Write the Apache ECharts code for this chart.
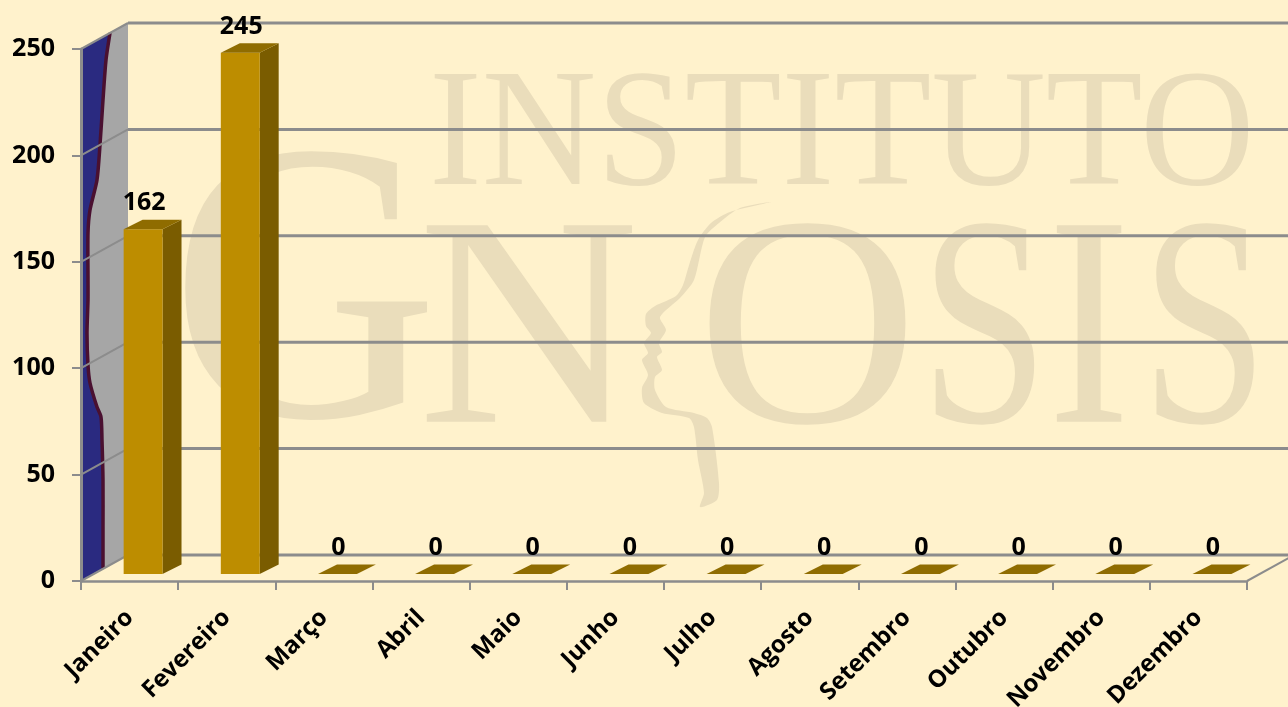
<!DOCTYPE html>
<html><head><meta charset="utf-8">
<style>html,body{margin:0;padding:0;background:#FFF2CC}#c{width:1288px;height:707px}</style>
<script src="https://cdn.jsdelivr.net/npm/echarts@6/dist/echarts.min.js"></script>
</head><body><div id="c"></div>
<script>
const categories = ['Janeiro','Fevereiro','Março','Abril','Maio','Junho','Julho','Agosto','Setembro','Outubro','Novembro','Dezembro'];
const values = [162,245,0,0,0,0,0,0,0,0,0,0];
const yTicks = [0,50,100,150,200,250];

const WM = '#EADDBB', GRID = '#8C8C8C', FONT = '"Open Sans","Noto Sans",sans-serif';
const wallDX = 47, wallDY = -26, barDX = 19, barDY = -9.5, barOffX = 13.5, barOffY = -7;

function wm(text, x, y, size, sx) {
  return {type:'text', x, y, scaleX:sx||1, silent:true, z:0,
    style:{text, x:0, y:0, fill:WM, font:'400 '+size+'px "Liberation Serif",serif', textAlign:'left', textVerticalAlign:'middle'}};
}
const facePoints = [[771,202],[730,212],[711,223],[698,240],[690,262],[683,285],[676,296],[655,306],[646,314],[646,326],[651,333],[644,343],[648,353],[642,360],[648,375],[642,388],[644,403],[662,413],[689,418],[694,427],[698,460],[704,493],[700,507],[717,500],[719,483],[712,427],[707,418],[694,413],[666,407],[655,390],[655,377],[662,370],[657,357],[662,352],[659,343],[666,330],[660,317],[680,298],[694,280],[705,237],[719,223],[740,208]];

const chart = echarts.init(document.getElementById('c'));
chart.setOption({
  backgroundColor:'#FFF2CC', animation:false,
  grid:{left:81,right:41,top:49,bottom:126,containLabel:false,outerBoundsMode:'none'},
  graphic:[
    wm('INSTITUTO',429,140,167,0.95),
    wm('G',170,311,400,0.93),
    wm('N',418,343,300,1.02),
    wm('O',697,343,300,1.02),
    wm('S',920,343,300,0.77),
    wm('I',1048,343,300,0.82),
    wm('S',1141,343,300,0.76),
    {type:'polygon',silent:true,z:0,shape:{points:facePoints,smooth:0.25},style:{fill:WM}}
  ],
  xAxis:{type:'category',data:categories,boundaryGap:true,z:4,
    axisLine:{lineStyle:{color:GRID,width:2.5}},
    axisTick:{show:true,alignWithLabel:false,length:9,lineStyle:{color:GRID,width:2}},
    axisLabel:{rotate:45,margin:33,interval:0,color:'#000',fontFamily:FONT,fontWeight:700,fontSize:24},
    splitLine:{show:false}},
  yAxis:{type:'value',min:0,max:250,interval:50,z:4,
    axisLine:{show:true,lineStyle:{color:GRID,width:3}},
    axisTick:{show:true,length:9,lineStyle:{color:GRID,width:2}},
    axisLabel:{margin:26,color:'#000',fontFamily:FONT,fontWeight:700,fontSize:25,padding:[4,0,0,0]},
    splitLine:{show:false}},
  series:[
    {type:'custom',z:2,silent:true,coordinateSystem:'cartesian2d',data:yTicks.map(v=>[0,v]),clip:false,
     encode:{x:0,y:1},
     renderItem(p,api){
       const band = api.size([1,0])[0];
       const left = api.coord([0,0])[0]-band/2;
       const right = left+band*categories.length;
       const y = api.coord([0,api.value(1)])[1];
       const children = [];
       if(p.dataIndex===0){
         const top = api.coord([0,250])[1];
         children.push({type:'polygon',shape:{points:[[left,y],[left,top],[left+wallDX,top+wallDY],[left+wallDX,y+wallDY]]},style:{fill:'#A6A6A6'}});
         const curve=[[110,33],[106,60],[103,100],[100,145],[97,180],[90,210],[88,233],[88,277],[88,300],[87,333],[88,365],[90,383],[97,407],[101,417],[102,440],[103,480],[103,530],[103,568]];
         children.push({type:'polygon',shape:{points:[[left,y],[left,top]].concat(curve)},style:{fill:'#2A2A80'}});
         children.push({type:'polyline',shape:{points:curve,smooth:0.25},style:{stroke:'#4A1030',fill:null,lineWidth:3.5}});
         children.push({type:'line',shape:{x1:right,y1:y,x2:right+wallDX,y2:y+wallDY},style:{stroke:GRID,lineWidth:2}});
       }
       children.push({type:'line',shape:{x1:left,y1:y,x2:left+wallDX,y2:y+wallDY},style:{stroke:GRID,lineWidth:2}});
       children.push({type:'line',shape:{x1:left+wallDX,y1:y+wallDY,x2:1288,y2:y+wallDY},style:{stroke:GRID,lineWidth:3}});
       return {type:'group',children};
     }},
    {type:'custom',z:3,silent:true,coordinateSystem:'cartesian2d',clip:false,
     data:values.map((v,i)=>[i,v]),encode:{x:0,y:1},
     renderItem(p,api){
       const band = api.size([1,0])[0];
       const w = band*0.4;
       const base = api.coord([api.value(0),0]);
       const top = api.coord([api.value(0),api.value(1)]);
       const x0 = base[0]+barOffX-w/2, x1 = x0+w, yb = base[1]+barOffY, yt = top[1]+barOffY;
       const ch = [];
       if(yb-yt>0.5){
         ch.push({type:'polygon',shape:{points:[[x1,yb],[x1,yt],[x1+barDX,yt+barDY],[x1+barDX,yb+barDY]]},style:{fill:'#7A5C00'}});
         ch.push({type:'rect',shape:{x:x0,y:yt,width:w,height:yb-yt},style:{fill:'#BD8D00'}});
       }
       ch.push({type:'polygon',shape:{points:[[x0,yt],[x1,yt],[x1+barDX,yt+barDY],[x0+barDX,yt+barDY]]},style:{fill:'#8F6C00'}});
       ch.push({type:'text',style:{text:String(api.value(1)),x:x0+w/2+1,y:yt-26,fill:'#000',font:'700 25px '+FONT,textAlign:'center',textVerticalAlign:'middle'}});
       return {type:'group',children:ch};
     }}
  ]
});
</script></body></html>
